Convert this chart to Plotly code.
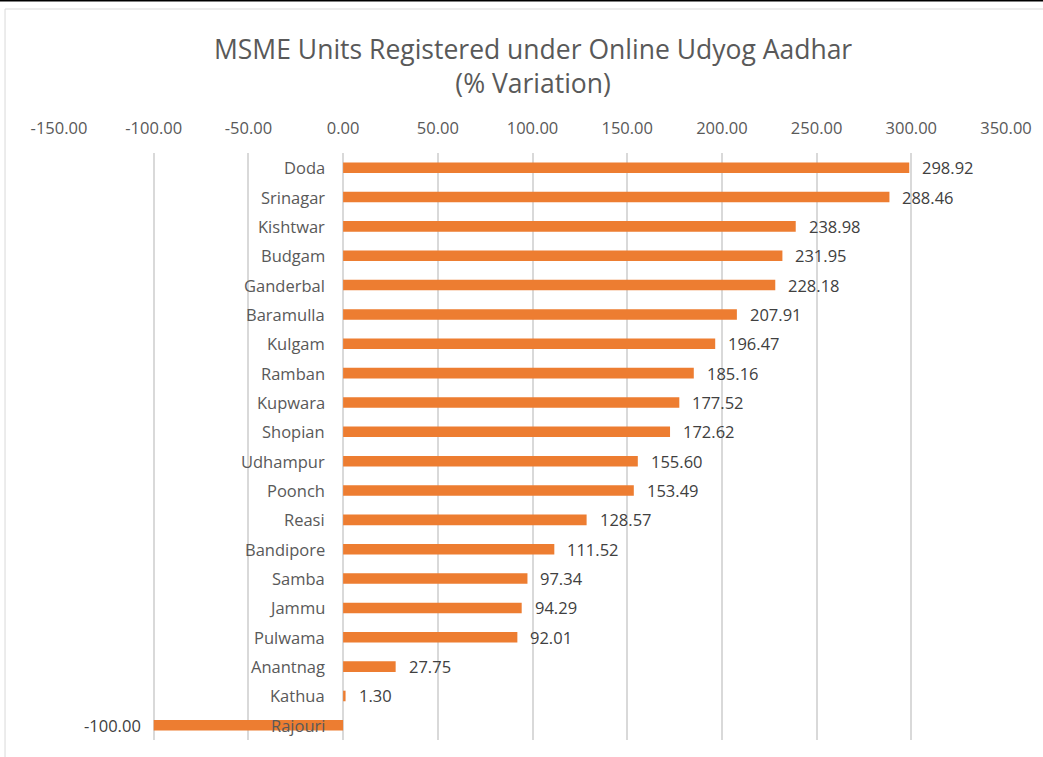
import plotly.graph_objects as go

districts = ["Doda", "Srinagar", "Kishtwar", "Budgam", "Ganderbal", "Baramulla", "Kulgam",
             "Ramban", "Kupwara", "Shopian", "Udhampur", "Poonch", "Reasi", "Bandipore",
             "Samba", "Jammu", "Pulwama", "Anantnag", "Kathua", "Rajouri"]
variation = [298.92, 288.46, 238.98, 231.95, 228.18, 207.91, 196.47, 185.16, 177.52, 172.62,
             155.60, 153.49, 128.57, 111.52, 97.34, 94.29, 92.01, 27.75, 1.30, -100.00]
tick_vals = [-150, -100, -50, 0, 50, 100, 150, 200, 250, 300, 350]
tick_text = [f"{v:.2f}" for v in tick_vals]

FONT = "Open Sans"
TXT = "#595959"
BAR = "#ED7D31"
GRID = "#D9D9D9"

fig = go.Figure()
fig.add_trace(go.Bar(
    x=variation, y=districts, orientation="h",
    marker=dict(color=BAR, line=dict(width=0)),
    width=0.36, hoverinfo="x+y",
))

annotations = []
for d, v in zip(districts, variation):
    annotations.append(dict(
        x=0, y=d, xref="x", yref="y", text=d, showarrow=False,
        xanchor="right", xshift=-16, font=dict(family=FONT, size=16.5, color=TXT)))
    annotations.append(dict(
        x=v, y=d, xref="x", yref="y", text=f"{v:.2f}", showarrow=False,
        xanchor="left" if v >= 0 else "right", xshift=11 if v >= 0 else -11,
        font=dict(family=FONT, size=16.5, color="#404040")))

annotations.append(dict(
    x=0.5, y=1.149, xref="paper", yref="paper", showarrow=False,
    text="MSME Units Registered under Online Udyog Aadhar<br>(% Variation)",
    font=dict(family=FONT, size=26.5, color=TXT), xanchor="center", yanchor="middle",
))

fig.update_layout(
    width=1043, height=757,
    margin=dict(l=59, r=37, t=153, b=17),
    paper_bgcolor="white", plot_bgcolor="white",
    showlegend=False,
    annotations=annotations,
    xaxis=dict(
        range=[-150, 350], side="top", tickmode="array", tickvals=tick_vals, ticktext=tick_text,
        showgrid=True, gridcolor=GRID, gridwidth=1.5, zeroline=True, zerolinecolor=GRID,
        zerolinewidth=1.5, showline=False, ticks="", ticklabelstandoff=15,
        tickfont=dict(family=FONT, size=16.5, color=TXT),
    ),
    yaxis=dict(
        categoryorder="array", categoryarray=districts, autorange="reversed",
        showticklabels=False, showgrid=False, zeroline=False, showline=False, ticks="",
    ),
    shapes=[
        dict(type="rect", xref="paper", yref="paper", x0=-0.057, x1=1.05, y0=-0.05, y1=1.2453,
             line=dict(color="#D9D9D9", width=1), fillcolor="rgba(0,0,0,0)", layer="below"),
        dict(type="line", xref="paper", yref="paper", x0=-0.07, x1=1.05, y0=1.2595, y1=1.2595,
             line=dict(color="black", width=1.5)),
    ],
)

fig.write_html("out.html", config={"displayModeBar": False},
               post_script="document.body.style.margin='0';document.body.style.padding='0';")
